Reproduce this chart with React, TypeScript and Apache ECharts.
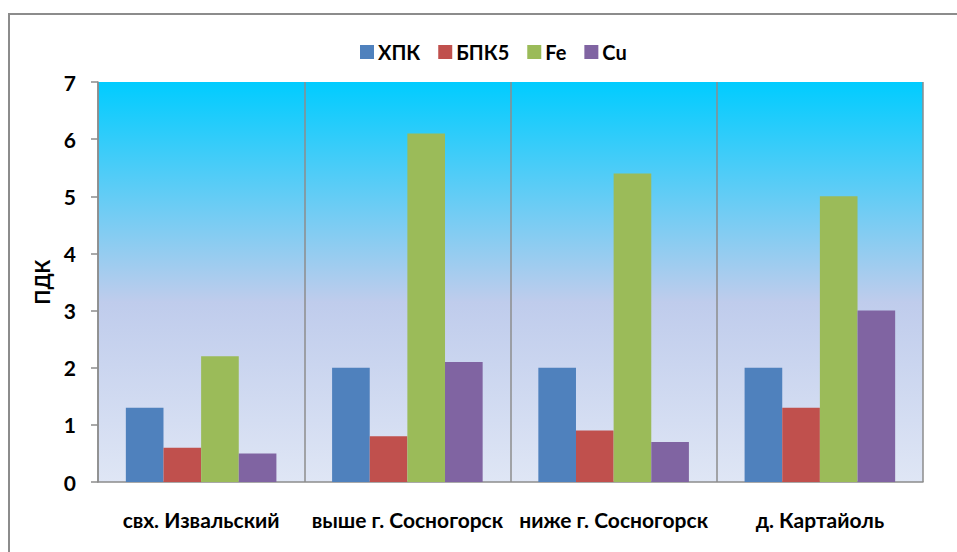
import React, { useEffect, useRef } from "react";
import * as echarts from "echarts";

const categories = ["свх. Извальский", "выше г. Сосногорск", "ниже г. Сосногорск", "д. Картайоль"];
const seriesNames = ["ХПК", "БПК5", "Fe", "Cu"];
const xpk = [1.3, 2.0, 2.0, 2.0];
const bpk5 = [0.6, 0.8, 0.9, 1.3];
const fe = [2.2, 6.1, 5.4, 5.0];
const cu = [0.5, 2.1, 0.7, 3.0];
const colors = ["#4F81BD", "#C0504D", "#9BBB59", "#8064A2"];
const yAxisName = "ПДК";

export default function App() {
  const ref = useRef<HTMLDivElement>(null);
  useEffect(() => {
    if (!ref.current) return;
    const chart = echarts.init(ref.current, undefined, { renderer: "svg" });
    const font = "Lato, 'Open Sans', sans-serif";
    const data = [xpk, bpk5, fe, cu];
    chart.setOption({
      animation: false,
      textStyle: { fontFamily: font },
      graphic: [
        {
          type: "rect",
          shape: { x: 9, y: 14, width: 1000, height: 600 },
          style: { fill: "none", stroke: "#8c8c8c", lineWidth: 2 },
          silent: true,
        },
      ],
      legend: {
        top: 37,
        left: 355,
        itemWidth: 14,
        itemHeight: 14,
        itemGap: 18,
        icon: "rect",
        textStyle: { fontFamily: font, fontWeight: "bold", fontSize: 20, color: "#000", padding: [0, 0, 0, -1] },
        data: seriesNames,
      },
      grid: {
        left: 98,
        right: 34,
        top: 82,
        bottom: 70,
        show: true,
        borderWidth: 0,
        backgroundColor: new echarts.graphic.LinearGradient(0, 0, 0, 1, [
          { offset: 0, color: "#00CCFF" },
          { offset: 0.55, color: "#BFCCEC" },
          { offset: 1, color: "#DFE6F5" },
        ]),
      },
      xAxis: {
        type: "category",
        data: categories,
        axisLine: { lineStyle: { color: "#8c8c8c", width: 1.5 } },
        axisTick: { length: 7, lineStyle: { color: "#8c8c8c", width: 1.5 } },
        splitLine: { show: true, lineStyle: { color: "#8c8c8c", width: 1.5 } },
        axisLabel: { color: "#000", fontWeight: "bold", fontSize: 21, margin: 27, fontFamily: font, interval: 0 },
      },
      yAxis: {
        type: "value",
        min: 0,
        max: 7,
        interval: 1,
        name: yAxisName,
        nameLocation: "middle",
        nameGap: 46,
        nameRotate: 90,
        nameTextStyle: { color: "#000", fontWeight: "bold", fontSize: 20, fontFamily: font },
        axisLine: { show: true, lineStyle: { color: "#8c8c8c", width: 1.5 } },
        axisTick: { show: true, length: 7, lineStyle: { color: "#8c8c8c", width: 1.5 } },
        splitLine: { show: false },
        axisLabel: { color: "#000", fontWeight: "bold", fontSize: 21, margin: 22, fontFamily: font },
      },
      series: seriesNames.map((name, i) => ({
        name,
        type: "bar",
        data: data[i],
        barGap: "0%",
        barCategoryGap: "27%",
        itemStyle: { color: colors[i] },
      })),
    });
    return () => chart.dispose();
  }, []);
  return <div ref={ref} style={{ width: 957, height: 552, position: "absolute", left: 0, top: 0 }} />;
}
